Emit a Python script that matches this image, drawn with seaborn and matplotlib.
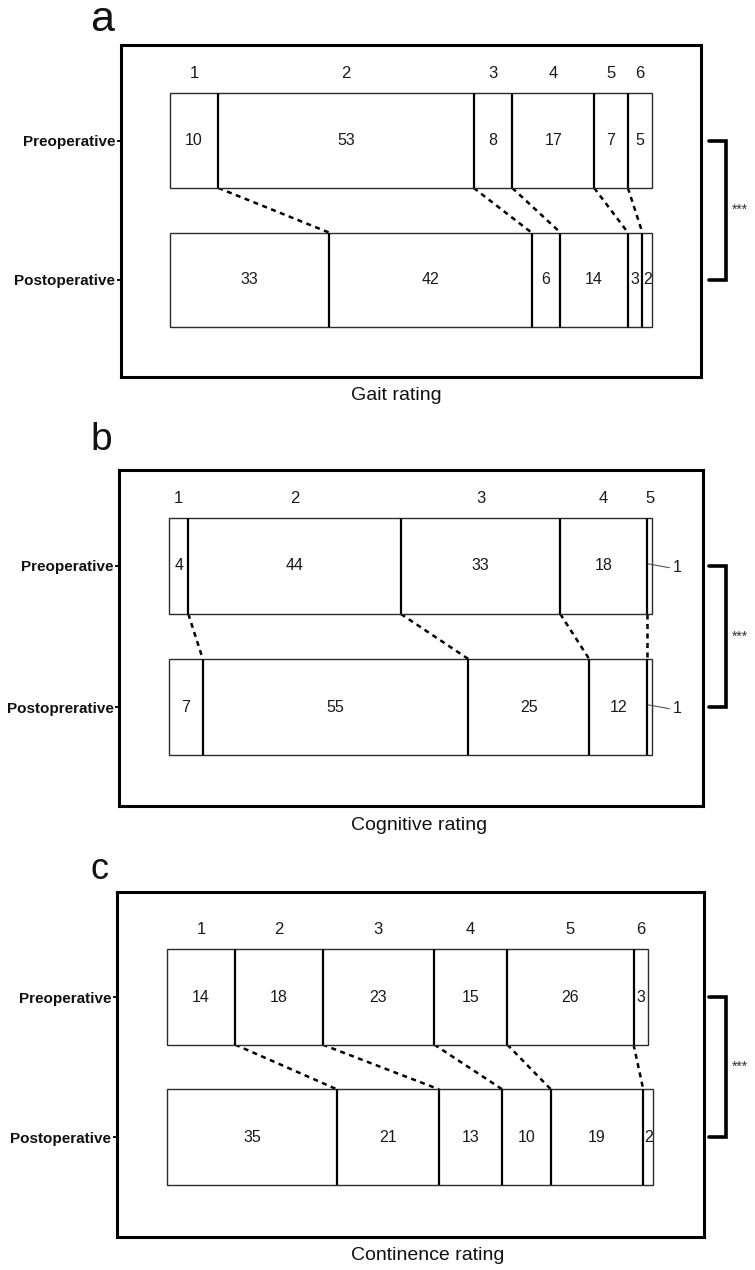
import numpy as np
import pandas as pd
import matplotlib
matplotlib.use("Agg")
import matplotlib.pyplot as plt
import seaborn as sns
from matplotlib.transforms import blended_transform_factory

# ---- data -------------------------------------------------------------
gait_grades = ["1", "2", "3", "4", "5", "6"]
gait_pre = [10, 53, 8, 17, 7, 5]
gait_post = [33, 42, 6, 14, 3, 2]

cog_grades = ["1", "2", "3", "4", "5"]
cog_pre = [4, 44, 33, 18, 1]
cog_post = [7, 55, 25, 12, 1]

cont_grades = ["1", "2", "3", "4", "5", "6"]
cont_pre = [14, 18, 23, 15, 26, 3]
cont_post = [35, 21, 13, 10, 19, 2]

row_labels_a = ["Preoperative", "Postoperative"]
row_labels_b = ["Preoperative", "Postoprerative"]
row_labels_c = ["Preoperative", "Postoperative"]

xlabels = ["Gait rating", "Cognitive rating", "Continence rating"]
letters = ["a", "b", "c"]
significance = "***"

# ---- style ------------------------------------------------------------
sns.set_theme(style="white")
plt.rcParams["font.family"] = ["Liberation Sans", "DejaVu Sans"]

W, H = 755, 1270
fig = plt.figure(figsize=(W / 100, H / 100), dpi=100)

# frame (left, right, top, bottom), bar extent (x0, x1), row centres (pre, post) in px
layout = [
    dict(L=121, R=701, T=45, B=377, x0=170, x1=652, P=140.5, Q=280, base=31, fs=31),
    dict(L=119, R=703, T=470, B=806, x0=169, x1=652, P=566, Q=707, base=450, fs=28),
    dict(L=117, R=704, T=892, B=1237, x0=167, x1=653, P=997, Q=1137, base=879, fs=26),
]

panels = [
    (gait_grades, gait_pre, gait_post, row_labels_a),
    (cog_grades, cog_pre, cog_post, row_labels_b),
    (cont_grades, cont_pre, cont_post, row_labels_c),
]

BAR_H = 0.68

for k, ((grades, pre, post, rows), lay) in enumerate(zip(panels, layout)):
    L, R, T, B = lay["L"], lay["R"], lay["T"], lay["B"]
    ax = fig.add_axes([L / W, 1 - B / H, (R - L) / W, (B - T) / H])

    df = pd.DataFrame({"phase": rows, "total": [sum(pre), sum(post)]})
    sns.barplot(data=df, x="total", y="phase", orient="h", width=BAR_H,
                color="white", saturation=1, edgecolor="#2b2b2b", linewidth=1.0,
                ax=ax, zorder=2)

    # axis limits derived from pixel layout
    s = (lay["x1"] - lay["x0"]) / 100.0
    ax.set_xlim(-(lay["x0"] - L) / s, (R - lay["x0"]) / s)
    sp = lay["Q"] - lay["P"]
    ax.set_ylim(1 + (B - lay["Q"]) / sp, -(lay["P"] - T) / sp)

    cums = []
    for i, vals in enumerate([pre, post]):
        edges = np.concatenate([[0], np.cumsum(vals)])
        cums.append(edges)
        # segment dividers
        ax.vlines(edges[1:-1], i - BAR_H / 2, i + BAR_H / 2, color="black",
                  lw=1.6, zorder=3)
        for j, v in enumerate(vals):
            c = (edges[j] + edges[j + 1]) / 2
            if v <= 1:
                ax.plot([edges[-1] - 0.8, edges[-1] + 3.6], [i - 0.015, i + 0.012],
                        color="#555555", lw=0.8, zorder=3)
                ax.text(edges[-1] + 4.2, i + 0.01, str(v), ha="left", va="center",
                        fontsize=11.5, color="#1a1a1a")
            else:
                ax.text(c, i, str(v), ha="center", va="center", fontsize=11.5,
                        color="#1a1a1a", zorder=4)

    # grade labels over preoperative segments
    e = cums[0]
    for j, g in enumerate(grades):
        ax.text((e[j] + e[j + 1]) / 2, -0.48, g, ha="center", va="center",
                fontsize=12, color="#1a1a1a")

    # dashed connectors between matching boundaries
    n = len(grades) - 1
    for j in range(1, n + 1):
        ax.plot([cums[0][j], cums[1][j]], [BAR_H / 2, 1 - BAR_H / 2],
                color="black", lw=1.8, ls=(0, (2.0, 1.8)), zorder=1)

    # frame and ticks
    for sp_ in ax.spines.values():
        sp_.set_visible(True)
        sp_.set_linewidth(2.2)
        sp_.set_color("black")
    ax.set_xticks([])
    ax.tick_params(axis="y", direction="out", length=3, width=1.3, pad=1,
                   left=True, colors="black")
    for t in ax.get_yticklabels():
        t.set_fontweight("bold")
        t.set_fontsize(11)
        t.set_color("#111111")
    ax.set_xlabel("")
    ax.set_ylabel("")

    # significance bracket outside the frame
    tr = blended_transform_factory(ax.transAxes, ax.transData)
    xe = (709 - L) / (R - L)
    xv = (726 - L) / (R - L)
    ax.plot([xe, xv, xv, xe], [0, 0, 1, 1], color="black", lw=2.6,
            transform=tr, clip_on=False, solid_joinstyle="miter")
    ax.text((732 - L) / (R - L), 0.5, significance, transform=tr, ha="left",
            va="center", fontsize=10, color="#333333", clip_on=False)

    # x-axis caption and panel letter
    fig.text(351 / W, 1 - (B + 19) / H, xlabels[k], ha="left", va="center",
             fontsize=14, color="#111111")
    fig.text(90 / W, 1 - lay["base"] / H, letters[k], ha="left", va="baseline",
             fontsize=lay["fs"], color="#111111")

fig.savefig("out.png", dpi=100, facecolor="white")
